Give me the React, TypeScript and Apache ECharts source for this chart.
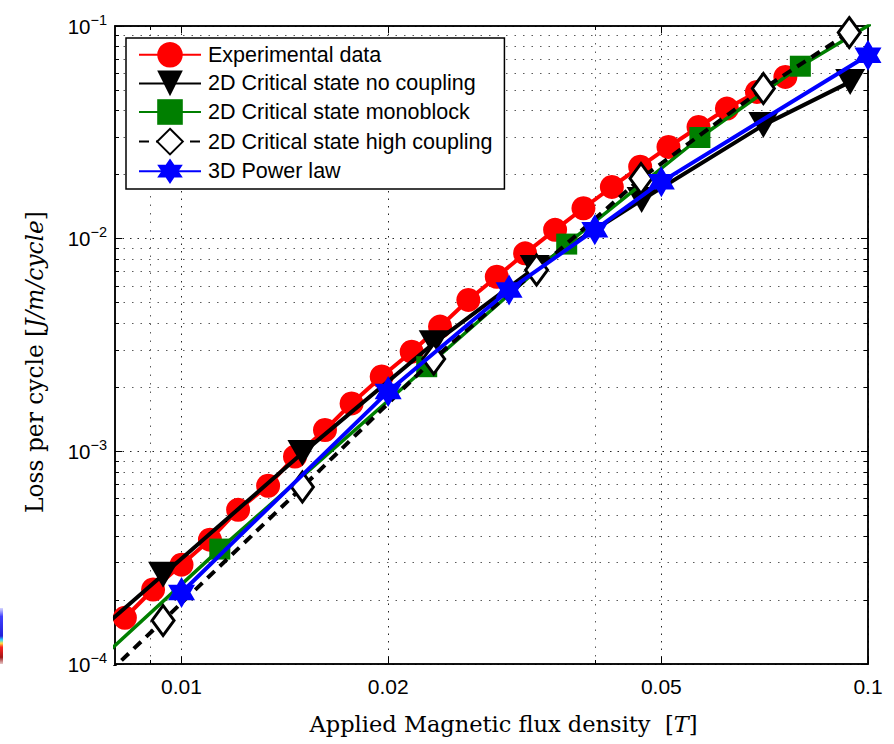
import React, { useEffect, useRef } from 'react';
import * as echarts from 'echarts';

// Experimental data
const expB = [0.00827, 0.00909, 0.0100, 0.0110, 0.01209, 0.01337, 0.01463, 0.01618, 0.01769, 0.01957, 0.02164, 0.0238, 0.02617, 0.02879, 0.03166, 0.03501, 0.0385, 0.04235, 0.04657, 0.05121, 0.05664, 0.0623, 0.0689, 0.07579];
const expLoss = [1.65e-4, 2.24e-4, 2.93e-4, 3.84e-4, 5.31e-4, 6.89e-4, 9.45e-4, 1.26e-3, 1.68e-3, 2.25e-3, 2.94e-3, 3.86e-3, 5.15e-3, 6.62e-3, 8.53e-3, 1.10e-2, 1.39e-2, 1.75e-2, 2.18e-2, 2.70e-2, 3.35e-2, 4.09e-2, 4.90e-2, 5.76e-2];

// 2D critical state, no coupling (first point lies left of the axis and is clipped)
const noCouplingB = [0.0065, 0.0094, 0.0150, 0.0233, 0.0327, 0.0468, 0.0704, 0.0942];
const noCouplingLoss = [9.3e-5, 2.63e-4, 9.81e-4, 3.22e-3, 7.28e-3, 1.52e-2, 3.42e-2, 5.46e-2];

// 2D critical state, monoblock (end points outside the axes, clipped)
const monoB = [0.0057, 0.01137, 0.02276, 0.0364, 0.0569, 0.0797, 0.114];
const monoLoss = [4.47e-5, 3.47e-4, 2.50e-3, 9.43e-3, 2.99e-2, 6.47e-2, 0.129];

// 2D critical state, high coupling (first point outside the axes, clipped)
const highB = [0.00588, 0.0094, 0.0150, 0.0233, 0.0329, 0.0467, 0.0704, 0.0939];
const highLoss = [3.76e-5, 1.60e-4, 6.79e-4, 2.72e-3, 7.12e-3, 1.92e-2, 5.08e-2, 9.31e-2];

// 3D power law
const powerB = [0.01, 0.02, 0.03, 0.04, 0.05, 0.1];
const powerLoss = [2.17e-4, 1.91e-3, 5.74e-3, 1.10e-2, 1.85e-2, 7.29e-2];

const seriesNames = [
  'Experimental data',
  '2D Critical state no coupling',
  '2D Critical state monoblock',
  '2D Critical state high coupling',
  '3D Power law',
];

const xMajorTicks = [0.01, 0.02, 0.05, 0.1];
const xMinorTicks = [0.009, 0.04];
const yMajorTicks = [1e-4, 1e-3, 1e-2, 1e-1];
const yMinorTicks = [
  2e-4, 3e-4, 4e-4, 5e-4, 6e-4, 7e-4, 8e-4, 9e-4,
  2e-3, 3e-3, 4e-3, 5e-3, 6e-3, 7e-3, 8e-3, 9e-3,
  2e-2, 3e-2, 4e-2, 5e-2, 6e-2, 7e-2, 8e-2, 9e-2,
];

const X_MIN = 0.008;
const X_MAX = 0.1;
const Y_MIN = 1e-4;
const Y_MAX = 1e-1;

const HEXAGRAM =
  'path://M100 0L128.87 50L186.6 50L157.7 100L186.6 150L128.87 150L100 200L71.13 150L13.4 150L42.3 100L13.4 50L71.13 50Z';

const pairs = (xs: number[], ys: number[]) => xs.map((x, i) => [x, ys[i]]);

const SANS = 'Liberation Sans';
const SERIF = 'DejaVu Serif';

export default function App() {
  const ref = useRef<HTMLDivElement>(null);

  useEffect(() => {
    if (!ref.current) return;
    const chart = echarts.init(ref.current, null, { renderer: 'svg' });

    const gridRect = { left: 115, right: 26, top: 26, bottom: 80 };
    const axisLine = { show: true, onZero: false, lineStyle: { color: '#000', width: 1.5 } };
    const majorGrid = { show: true, lineStyle: { color: '#000', width: 1, type: [1.5, 6] as any, opacity: 0.85 } };
    const minorGrid = { show: true, lineStyle: { color: '#333', width: 1, type: [1.5, 7] as any, opacity: 0.8 } };

    const xBase = (gridIndex: number, position: string, ticks: number[], len: number) => ({
      type: 'log',
      logBase: 10,
      gridIndex,
      position,
      min: X_MIN,
      max: X_MAX,
      axisLine,
      axisTick: { show: true, inside: true, length: len, customValues: ticks, lineStyle: { color: '#000', width: 1 } },
      axisLabel: { show: false },
      splitLine: { show: false },
    });
    const yBase = (gridIndex: number, position: string, ticks: number[], len: number) => ({
      type: 'log',
      logBase: 10,
      gridIndex,
      position,
      min: Y_MIN,
      max: Y_MAX,
      axisLine,
      axisTick: { show: true, inside: true, length: len, customValues: ticks, lineStyle: { color: '#000', width: 1 } },
      axisLabel: { show: false },
      splitLine: { show: false },
    });

    const xMain: any = xBase(0, 'bottom', xMajorTicks, 7);
    xMain.axisLabel = {
      show: true,
      customValues: xMajorTicks,
      margin: 12,
      color: '#000',
      fontFamily: SANS,
      fontSize: 21,
      formatter: (v: number) => String(parseFloat(Number(v).toPrecision(4))),
    };
    xMain.splitLine = majorGrid;
    xMain.name = '{r|Applied Magnetic flux density  [}{i|T}{r|]}';
    xMain.nameLocation = 'middle';
    xMain.nameGap = 48;
    xMain.nameTextStyle = {
      color: '#000',
      fontFamily: SERIF,
      fontSize: 22.5,
      padding: [0, 0, 0, 24],
      rich: {
        r: { fontFamily: SERIF, fontSize: 22.5, color: '#000' },
        i: { fontFamily: SERIF, fontSize: 22.5, fontStyle: 'italic', color: '#000' },
      },
    };

    const xMinor: any = xBase(1, 'bottom', xMinorTicks, 4);
    xMinor.splitLine = minorGrid;

    const yMain: any = yBase(0, 'left', yMajorTicks, 7);
    yMain.axisLabel = {
      show: true,
      customValues: yMajorTicks,
      margin: 8,
      color: '#000',
      fontFamily: SANS,
      formatter: (v: number) => {
        const e = Math.round(Math.log10(v));
        return `{b|10}{s|\u2212${Math.abs(e)}}`;
      },
      rich: {
        b: { fontFamily: SANS, fontSize: 20.5, lineHeight: 28, color: '#000' },
        s: { fontFamily: SANS, fontSize: 14.5, lineHeight: 14, verticalAlign: 'top', color: '#000' },
      },
    };
    yMain.splitLine = majorGrid;
    yMain.name = '{r|Loss per cycle [}{i|J/m/cycle}{r|]}';
    yMain.nameLocation = 'middle';
    yMain.nameGap = 69;
    yMain.nameTextStyle = {
      color: '#000',
      fontFamily: SERIF,
      fontSize: 23.3,
      padding: [0, 34, 0, 0],
      rich: {
        r: { fontFamily: SERIF, fontSize: 23.3, color: '#000' },
        i: { fontFamily: SERIF, fontSize: 23.3, fontStyle: 'italic', color: '#000' },
      },
    };

    const yMinor: any = yBase(1, 'left', yMinorTicks, 4);
    yMinor.splitLine = minorGrid;

    const option: any = {
      animation: false,
      backgroundColor: '#fff',
      grid: [
        { ...gridRect },
        { ...gridRect },
      ],
      xAxis: [
        xMain,
        xBase(0, 'top', xMajorTicks, 7),
        xMinor,
        xBase(1, 'top', xMinorTicks, 4),
      ],
      yAxis: [
        yMain,
        yBase(0, 'right', yMajorTicks, 7),
        yMinor,
        yBase(1, 'right', yMinorTicks, 4),
      ],
      legend: {
        data: seriesNames,
        orient: 'vertical',
        left: 126,
        top: 38,
        itemWidth: 62,
        itemHeight: 32,
        itemGap: 3,
        padding: [4, 12, 5, 12],
        borderColor: '#000',
        borderWidth: 1.5,
        borderRadius: 0,
        backgroundColor: '#fff',
        selectedMode: false,
        z: 100,
        textStyle: { color: '#000', fontFamily: SANS, fontSize: 21.5, padding: [0, 0, 0, 2] },
      },
      series: [
        {
          name: seriesNames[0],
          type: 'line',
          xAxisIndex: 0,
          yAxisIndex: 0,
          data: pairs(expB, expLoss),
          symbol: 'circle',
          symbolSize: 24,
          itemStyle: { color: '#ff0000' },
          lineStyle: { color: '#ff0000', width: 4 },
          clip: false,
          z: 2,
          emphasis: { disabled: true },
        },
        {
          name: seriesNames[1],
          type: 'line',
          xAxisIndex: 0,
          yAxisIndex: 0,
          data: pairs(noCouplingB, noCouplingLoss),
          symbol: 'triangle',
          symbolRotate: 180,
          symbolSize: [30, 26],
          itemStyle: { color: '#000' },
          lineStyle: { color: '#000', width: 4 },
          clip: true,
          z: 3,
          emphasis: { disabled: true },
        },
        {
          name: seriesNames[2],
          type: 'line',
          xAxisIndex: 0,
          yAxisIndex: 0,
          data: pairs(monoB, monoLoss),
          symbol: 'rect',
          symbolSize: 21,
          itemStyle: { color: '#007f00' },
          lineStyle: { color: '#007f00', width: 3.5 },
          clip: true,
          z: 4,
          emphasis: { disabled: true },
        },
        {
          name: seriesNames[3],
          type: 'line',
          xAxisIndex: 0,
          yAxisIndex: 0,
          data: pairs(highB, highLoss),
          symbol: 'diamond',
          symbolSize: [22, 30],
          itemStyle: { color: '#fff', borderColor: '#000', borderWidth: 3 },
          lineStyle: { color: '#000', width: 4, type: [10, 7] },
          clip: true,
          z: 5,
          emphasis: { disabled: true },
        },
        {
          name: seriesNames[4],
          type: 'line',
          xAxisIndex: 0,
          yAxisIndex: 0,
          data: pairs(powerB, powerLoss),
          symbol: HEXAGRAM,
          symbolSize: [27, 31],
          itemStyle: { color: '#0000ff' },
          lineStyle: { color: '#0000ff', width: 4 },
          clip: false,
          z: 6,
          emphasis: { disabled: true },
        },
      ],
      graphic: [
        {
          type: 'rect',
          left: 0,
          top: 608,
          shape: { x: 0, y: 0, width: 3, height: 56 },
          style: {
            fill: new echarts.graphic.LinearGradient(0, 0, 0, 1, [
              { offset: 0, color: 'rgba(90,90,255,0.25)' },
              { offset: 0.15, color: '#4040ff' },
              { offset: 0.5, color: '#2020d8' },
              { offset: 0.57, color: '#30d8ff' },
              { offset: 0.63, color: '#ffe040' },
              { offset: 0.7, color: '#ff2020' },
              { offset: 0.88, color: '#a01818' },
              { offset: 1, color: 'rgba(160,40,40,0.25)' },
            ]),
          },
          silent: true,
        },
      ],
    };

    chart.setOption(option);
    return () => chart.dispose();
  }, []);

  return (
    <div
      ref={ref}
      style={{ position: 'absolute', left: 0, top: 0, width: 894, height: 744 }}
    />
  );
}
